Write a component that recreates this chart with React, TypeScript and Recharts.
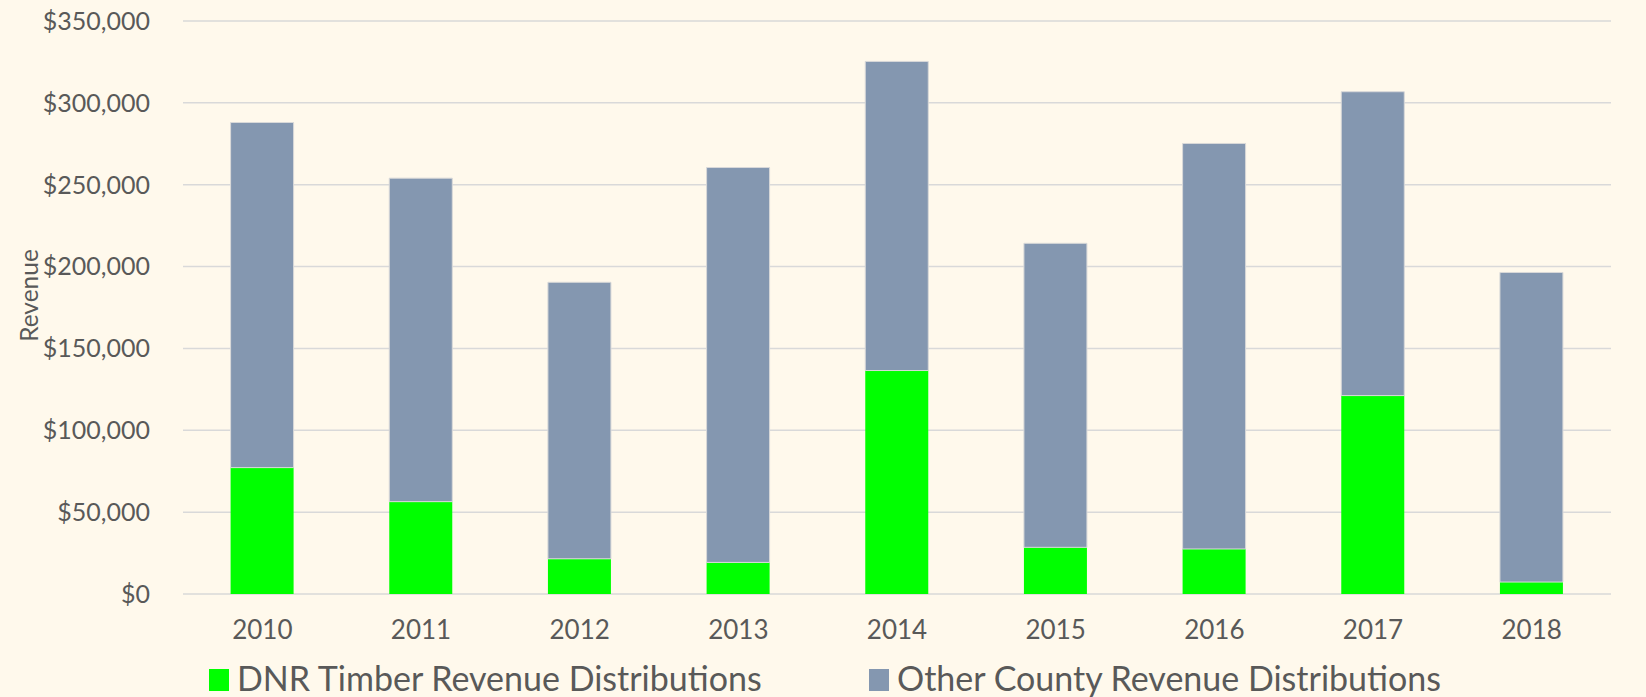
import React from 'react'
import { Bar, BarChart, CartesianGrid, Legend, XAxis, YAxis } from 'recharts'

const YEARS = ['2010', '2011', '2012', '2013', '2014', '2015', '2016', '2017', '2018']
const DNR_TIMBER = [77200, 56400, 21500, 19300, 136500, 28500, 27500, 121200, 7300]
const OTHER_COUNTY = [210800, 197600, 168900, 241200, 188800, 185700, 247700, 185600, 189100]
const Y_TICKS = [0, 50000, 100000, 150000, 200000, 250000, 300000, 350000]

const SERIES = [
  { key: 'dnr', name: 'DNR Timber Revenue Distributions', color: '#00FF00', edge: 'none' },
  { key: 'other', name: 'Other County Revenue Distributions', color: '#8497B0', edge: '#D9D9D9' },
]

const data = YEARS.map((year, i) => ({
  year,
  dnr: DNR_TIMBER[i],
  other: OTHER_COUNTY[i],
}))

const BG = '#FFF9EC'
const TEXT = '#595959'
const FONT = 'Lato, "Noto Sans", sans-serif'

const money = (v: number) => '$' + v.toLocaleString('en-US')

// legend is fixed 40px tall so the x axis height below accounts for it
function LegendRow() {
  const lefts = [209, 869]
  return (
    <div style={{ position: 'relative', height: 40, fontFamily: FONT }}>
      {SERIES.map((s, i) => (
        <div
          key={s.key}
          style={{
            position: 'absolute',
            left: lefts[i],
            top: 0,
            display: 'flex',
            alignItems: 'center',
            gap: 8,
            fontSize: 34,
            lineHeight: '40px',
            color: TEXT,
            whiteSpace: 'nowrap',
          }}
        >
          <span style={{ width: 20, height: 22, background: s.color, display: 'inline-block', marginTop: 4 }} />
          <span>{s.name}</span>
        </div>
      ))}
    </div>
  )
}

function RevenueLabel({ viewBox }: any) {
  const cx = viewBox.x + 28
  const cy = viewBox.y + viewBox.height / 2 - 12
  return (
    <text
      x={cx}
      y={cy}
      transform={`rotate(-90, ${cx}, ${cy})`}
      textAnchor="middle"
      dominantBaseline="central"
      fill={TEXT}
      fontSize={24.5}
      fontFamily={FONT}
    >
      Revenue
    </text>
  )
}

export default function App() {
  return (
    <div style={{ width: 1646, height: 697, background: BG, overflow: 'hidden' }}>
      <style>{`body{margin:0;background:${BG};}`}</style>
      <BarChart
        width={1646}
        height={697}
        data={data}
        margin={{ top: 21, right: 35, bottom: 0, left: 0 }}
        barCategoryGap="30%"
      >
        <CartesianGrid vertical={false} stroke="#D9D9D9" strokeWidth={1.5} />
        <XAxis
          dataKey="year"
          axisLine={false}
          tickLine={false}
          tickSize={0}
          tickMargin={27}
          height={63}
          tick={{ fill: TEXT, fontSize: 26, fontFamily: FONT }}
        />
        <YAxis
          width={183}
          domain={[0, 350000]}
          ticks={Y_TICKS}
          interval={0}
          axisLine={false}
          tickLine={false}
          tickSize={0}
          tickMargin={33}
          tickFormatter={money}
          tick={{ fill: TEXT, fontSize: 25, fontFamily: FONT }}
          label={{ content: RevenueLabel }}
        />
        <Legend
          verticalAlign="bottom"
          wrapperStyle={{ position: 'absolute', left: 0, top: 658, width: 1646 }}
          content={() => <LegendRow />}
        />
        {SERIES.map((s) => (
          <Bar
            key={s.key}
            dataKey={s.key}
            name={s.name}
            stackId="rev"
            fill={s.color}
            stroke={s.edge}
            strokeWidth={1}
            isAnimationActive={false}
          />
        ))}
      </BarChart>
    </div>
  )
}
